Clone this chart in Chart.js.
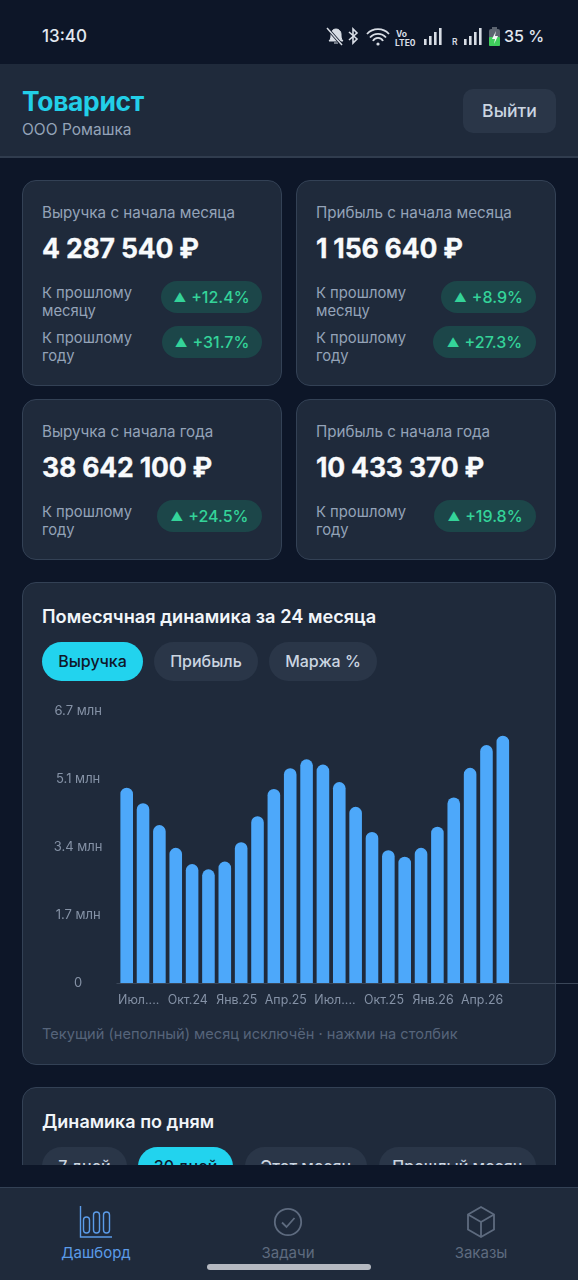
<!DOCTYPE html>
<html lang="ru">
<head>
<meta charset="utf-8">
<title>Товарист</title>
<script src="https://cdn.jsdelivr.net/npm/chart.js@4"></script>
<style>
*{box-sizing:border-box}
html,body{margin:0;padding:0;background:#0d1628}
body{position:relative;width:578px;height:1280px;overflow:hidden;font-family:Inter,"Noto Sans",sans-serif;color:#f1f5f9}
.a{position:absolute;white-space:nowrap}
.top{position:absolute;left:0;top:64px;width:578px;height:94px;background:#1f2a3b;border-bottom:2px solid #303c4e}
.card{position:absolute;background:#1f2a3b;border:1px solid #334155;border-radius:14px}
.lab{font-size:15.2px;line-height:18px;color:#94a3b8}
.sub{font-size:14.8px;line-height:18px;color:#94a3b8}
.num{font-size:26.6px;line-height:32px;font-weight:700;color:#f8fafc;letter-spacing:-.2px;-webkit-text-stroke:.3px #f8fafc}
.badge{position:absolute;height:32px;line-height:32px;border-radius:16px;background:#1c4649;color:#34d399;font-size:16px;font-weight:500;text-align:center;white-space:nowrap}
.badge i{font-style:normal;font-size:12.5px;margin-right:5px;position:relative;top:-1px}
.pill{position:absolute;height:39px;line-height:39px;border-radius:20px;background:#2a3648;color:#cbd5e1;font-size:16px;font-weight:500;text-align:center;white-space:nowrap}
.pill.on{background:#22d3ee;color:#0f172a}
.nav{position:absolute;left:0;top:1187px;width:578px;height:93px;background:#1f2a3b;border-top:1px solid #334155}
.navl{position:absolute;top:1244px;height:18px;line-height:18px;font-size:15px;text-align:center;white-space:nowrap;color:#5e6b7f}
canvas{display:block}
</style>
</head>
<body>
<!-- status bar -->
<div class="a" style="left:42px;top:25px;font-size:17px;line-height:22px;font-weight:500;color:#e2e8f0">13:40</div>
<svg class="a" style="left:324px;top:24px" width="190" height="24" viewBox="0 0 190 24" fill="none">
 <path d="M5 17c2-2 2-4 2-7a5 5 0 0 1 10 0c0 3 0 5 2 7z M10 19h4" fill="#d8dde5" stroke="#d8dde5"/>
 <path d="M3 4l15 17" stroke="#0d1628" stroke-width="3"/><path d="M3 4l15 17" stroke="#d8dde5" stroke-width="1.5"/>
 <path d="M25 8l8 7-4 4V5l4 4-8 7" stroke="#d8dde5" stroke-width="1.6"/>
 <path d="M43 10a15 15 0 0 1 22 0M46 13.500a10.500 10.500 0 0 1 16 0M49 17a5.500 5.500 0 0 1 10 0" stroke="#d8dde5" stroke-width="1.8"/>
 <circle cx="54" cy="20" r="1.6" fill="#d8dde5"/>
 <text x="72" y="13" font-size="8.5" font-weight="700" fill="#d8dde5" font-family="Inter">Vo</text>
 <text x="71" y="22" font-size="8.5" font-weight="700" fill="#d8dde5" font-family="Inter">LTE0</text>
 <rect x="100" y="15" width="2.6" height="6" fill="#d8dde5"/><rect x="105" y="12" width="2.6" height="9" fill="#d8dde5"/><rect x="110" y="8" width="2.6" height="13" fill="#d8dde5"/><rect x="115" y="4" width="2.6" height="17" fill="#d8dde5"/>
 <text x="128" y="21" font-size="8.5" font-weight="600" fill="#d8dde5" font-family="Inter">R</text>
 <rect x="140" y="15" width="2.6" height="6" fill="#d8dde5"/><rect x="145" y="12" width="2.6" height="9" fill="#d8dde5"/><rect x="150" y="8" width="2.6" height="13" fill="#d8dde5"/><rect x="155" y="4" width="2.6" height="17" fill="#d8dde5"/>
 <rect x="165" y="5" width="11" height="17" rx="2" fill="#5c6470"/><rect x="165" y="13" width="11" height="9" rx="1" fill="#3fcf5c"/><rect x="168" y="3" width="5" height="2" fill="#5c6470"/>
 <path d="M172 7l-4 8h3l-1 5 4-8h-3z" fill="#f4f6f8"/>
</svg>
<div class="a" style="left:504px;top:25px;font-size:16px;line-height:22px;font-weight:500;color:#e2e8f0">35 %</div>

<!-- header -->
<div class="top"></div>
<div class="a" style="left:22px;top:84px;font-size:26.4px;line-height:34px;font-weight:700;color:#22cfe8;letter-spacing:-.3px">Товарист</div>
<div class="a" style="left:22px;top:121px;font-size:15.5px;line-height:18px;color:#94a3b8">ООО Ромашка</div>
<div class="a" style="left:463px;top:89px;width:93px;height:44px;line-height:44px;border-radius:10px;background:#2a3648;color:#cbd5e1;font-size:17.6px;font-weight:500;text-align:center">Выйти</div>

<!-- kpi cards -->
<div class="card" style="left:22px;top:180px;width:260px;height:206px"></div>
<div class="card" style="left:296px;top:180px;width:260px;height:206px"></div>
<div class="card" style="left:22px;top:399px;width:260px;height:161px"></div>
<div class="card" style="left:296px;top:399px;width:260px;height:161px"></div>

<div class="a lab" style="left:42px;top:204px">Выручка с начала месяца</div>
<div class="a num" style="left:42px;top:232px">4 287 540 ₽</div>
<div class="a sub" style="left:42px;top:284px">К прошлому<br>месяцу</div>
<div class="badge" style="left:161px;top:281px;width:101px"><i>▲</i>+12.4%</div>
<div class="a sub" style="left:42px;top:329px">К прошлому<br>году</div>
<div class="badge" style="left:162px;top:326px;width:100px"><i>▲</i>+31.7%</div>

<div class="a lab" style="left:316px;top:204px">Прибыль с начала месяца</div>
<div class="a num" style="left:316px;top:232px">1 156 640 ₽</div>
<div class="a sub" style="left:316px;top:284px">К прошлому<br>месяцу</div>
<div class="badge" style="left:441px;top:281px;width:95px"><i>▲</i>+8.9%</div>
<div class="a sub" style="left:316px;top:329px">К прошлому<br>году</div>
<div class="badge" style="left:433px;top:326px;width:103px"><i>▲</i>+27.3%</div>

<div class="a lab" style="left:42px;top:423px">Выручка с начала года</div>
<div class="a num" style="left:42px;top:451px">38 642 100 ₽</div>
<div class="a sub" style="left:42px;top:503px">К прошлому<br>году</div>
<div class="badge" style="left:157px;top:500px;width:105px"><i>▲</i>+24.5%</div>

<div class="a lab" style="left:316px;top:423px">Прибыль с начала года</div>
<div class="a num" style="left:316px;top:451px">10 433 370 ₽</div>
<div class="a sub" style="left:316px;top:503px">К прошлому<br>году</div>
<div class="badge" style="left:434px;top:500px;width:102px"><i>▲</i>+19.8%</div>

<!-- monthly chart card -->
<div class="card" style="left:22px;top:582px;width:534px;height:483px"></div>
<div class="a" style="left:42px;top:605px;font-size:18.2px;line-height:22px;font-weight:600;color:#f1f5f9">Помесячная динамика за 24 месяца</div>
<div class="pill on" style="left:42px;top:642px;width:101px">Выручка</div>
<div class="pill" style="left:154px;top:642px;width:104px">Прибыль</div>
<div class="pill" style="left:269px;top:642px;width:108px">Маржа %</div>
<div class="a" style="left:40px;top:700px;width:538px;height:320px"><canvas id="c" width="538" height="320"></canvas></div>
<div class="a" style="left:42px;top:1025px;font-size:14.6px;line-height:18px;color:#56647a">Текущий (неполный) месяц исключён · нажми на столбик</div>

<!-- clipped daily card -->
<div class="a" style="left:0;top:1070px;width:578px;height:95px;overflow:hidden">
 <div class="card" style="left:22px;top:17px;width:534px;height:200px"></div>
 <div class="a" style="left:42px;top:41px;font-size:18px;line-height:22px;font-weight:600;color:#f1f5f9">Динамика по дням</div>
 <div class="pill" style="left:42px;top:77px;width:85px">7 дней</div>
 <div class="pill on" style="left:138px;top:77px;width:95px">30 дней</div>
 <div class="pill" style="left:245px;top:77px;width:122px">Этот месяц</div>
 <div class="pill" style="left:379px;top:77px;width:157px">Прошлый месяц</div>
</div>

<!-- bottom nav -->
<div class="nav"></div>
<svg class="a" style="left:78px;top:1204px" width="36" height="36" viewBox="0 0 36 36" fill="none" stroke="#5b9be8" stroke-width="1.4">
 <path d="M2.500 2v31h31.500" />
 <rect x="5.500" y="13" width="6" height="16" rx="3"/><rect x="15.500" y="8" width="6" height="21" rx="3"/><rect x="25.500" y="8" width="6" height="21" rx="3"/>
</svg>
<svg class="a" style="left:272px;top:1206px" width="32" height="32" viewBox="0 0 32 32" fill="none" stroke="#5e6b7f" stroke-width="1.8">
 <circle cx="16" cy="16" r="13.2"/><path d="M10 16.500l4.500 4.500 8-9"/>
</svg>
<svg class="a" style="left:465px;top:1205px" width="32" height="34" viewBox="0 0 32 34" fill="none" stroke="#5e6b7f" stroke-width="1.8">
 <path d="M16 2l13 7.500v15L16 32 3 24.500v-15z M3 9.500l13 7.500 13-7.500 M16 17v15"/>
</svg>
<div class="navl" style="left:46px;width:100px;color:#5b9be8">Дашборд</div>
<div class="navl" style="left:238px;width:100px">Задачи</div>
<div class="navl" style="left:431px;width:100px">Заказы</div>
<div class="a" style="left:207px;top:1264px;width:164px;height:6px;border-radius:3px;background:#b5b9c1"></div>

<script>
const categories = ["Июл.24","Авг.24","Сен.24","Окт.24","Ноя.24","Дек.24","Янв.25","Фев.25","Мар.25","Апр.25","Май.25","Июн.25","Июл.25","Авг.25","Сен.25","Окт.25","Ноя.25","Дек.25","Янв.26","Фев.26","Мар.26","Апр.26","Май.26","Июн.26"];
const revenueMln = [4.81,4.43,3.89,3.33,2.93,2.80,2.99,3.47,4.11,4.78,5.29,5.51,5.38,4.95,4.34,3.72,3.27,3.11,3.33,3.85,4.57,5.30,5.86,6.09];
const xTickLabels = {"Июл.24":"Июл....","Окт.24":"Окт.24","Янв.25":"Янв.25","Апр.25":"Апр.25","Июл.25":"Июл....","Окт.25":"Окт.25","Янв.26":"Янв.26","Апр.26":"Апр.26"};
const yTickValues = [0,1.675,3.35,5.025,6.7];
const yTickLabels = ["0","1.7 млн","3.4 млн","5.1 млн","6.7 млн"];

const baseline = {
  id:'baseline',
  beforeDatasetsDraw(chart){
    const {ctx} = chart;
    const y = chart.scales.y.getPixelForValue(0);
    ctx.save();
    ctx.strokeStyle = '#3a4658';
    ctx.lineWidth = 1;
    ctx.beginPath();
    ctx.moveTo(chart.chartArea.left - 2, y + .5);
    ctx.lineTo(chart.width, y + .5);
    ctx.stroke();
    ctx.restore();
  }
};
const xTickFont = {family:'Inter', size:12.4};
const yTickFont = {family:'Inter', size:13};
new Chart(document.getElementById('c'), {
  type:'bar',
  data:{labels:categories, datasets:[{label:'Выручка', data:revenueMln, backgroundColor:'#4da8fa', borderWidth:0, borderRadius:6.5, borderSkipped:'bottom', barPercentage:.77, categoryPercentage:1}]},
  options:{
    responsive:false, animation:false, devicePixelRatio:1,
    layout:{padding:{top:11,right:67,left:0,bottom:0}},
    plugins:{legend:{display:false},tooltip:{enabled:false}},
    scales:{
      x:{
        grid:{display:false,drawTicks:false}, border:{display:false},
        afterFit(s){ s.height = 37; s.paddingLeft = 0; s.paddingRight = 0; },
        ticks:{autoSkip:false,maxRotation:0,minRotation:0,color:'#8592a6',font:xTickFont,padding:10,labelOffset:12,
          callback(v,i){ return xTickLabels[categories[i]] || ''; }}
      },
      y:{
        min:0,max:6.7,
        grid:{display:false,drawTicks:false}, border:{display:false},
        afterBuildTicks(s){ s.ticks = yTickValues.map(v=>({value:v})); },
        afterFit(s){ s.width = 78.5; s.paddingTop = 0; s.paddingBottom = 0; },
        ticks:{color:'#8592a6',font:yTickFont,padding:16,crossAlign:'center',
          callback(v){ return yTickLabels[yTickValues.indexOf(v)]; }}
      }
    }
  },
  plugins:[baseline]
});
</script>
</body>
</html>
